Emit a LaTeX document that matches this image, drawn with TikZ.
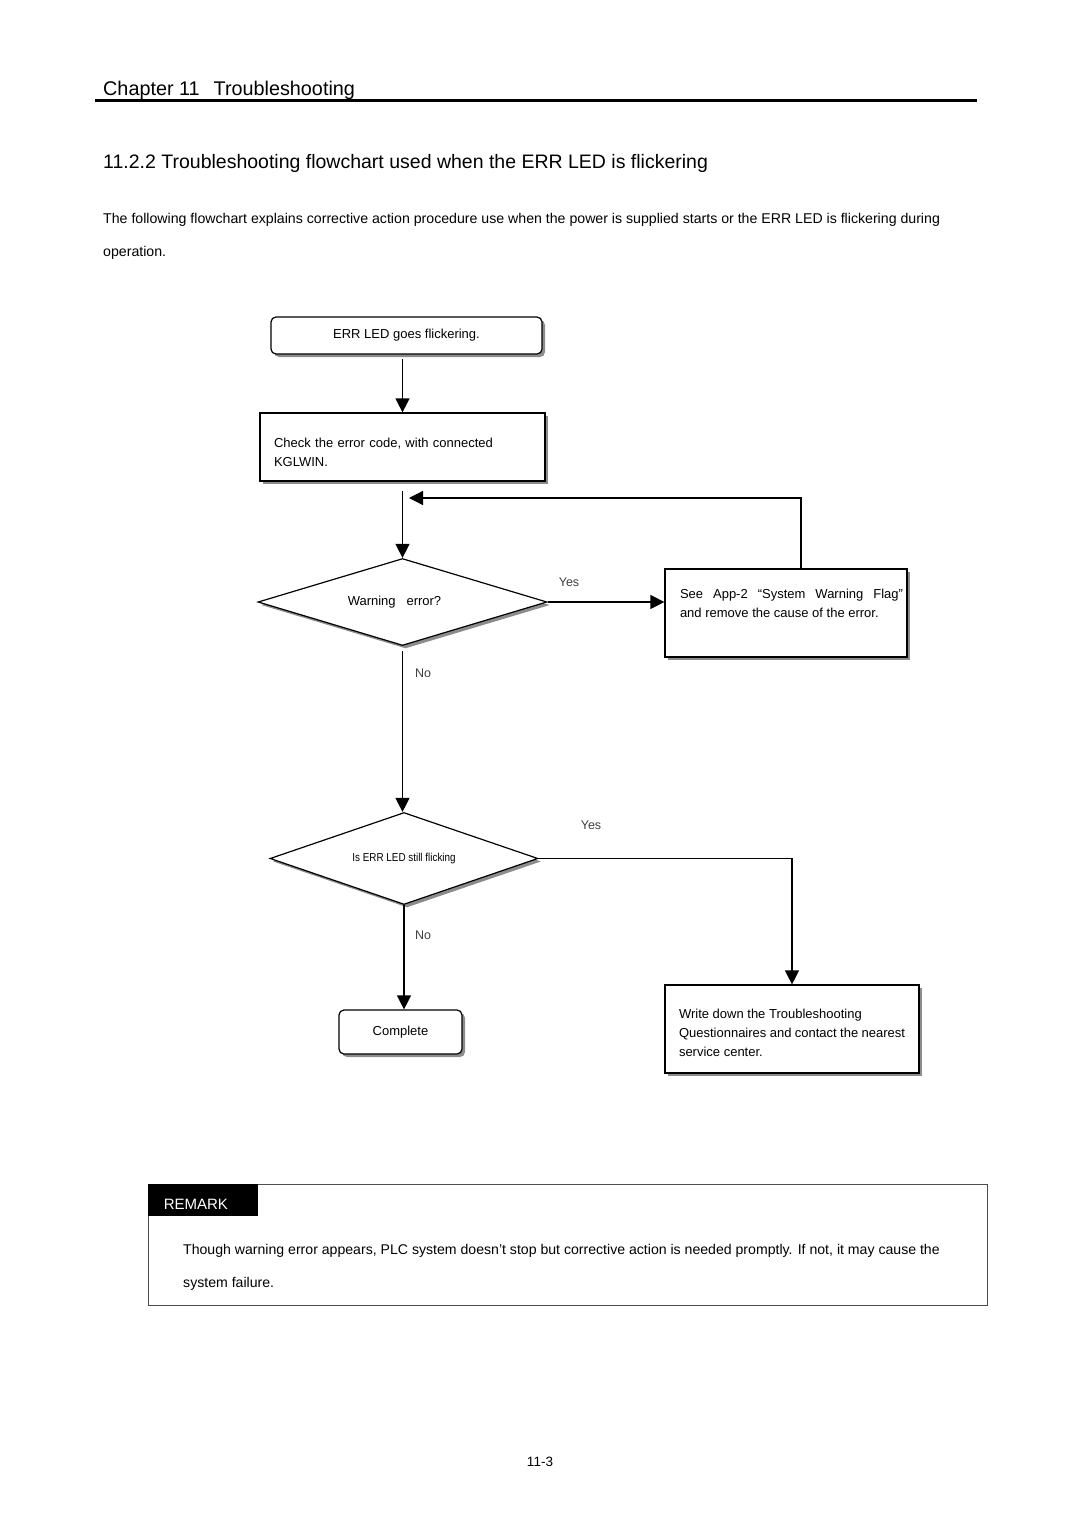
\documentclass[tikz,border=0pt]{standalone}
\usepackage{fontspec}
\setmainfont{Liberation Sans}
\usetikzlibrary{arrows.meta,shapes.geometric,shadows}

\begin{document}
\begin{tikzpicture}[%
      x=1pt, y=-1pt,
      every node/.style={font={\fontsize{13}{19}\selectfont}, inner sep=0pt},
      shadowed/.style={drop shadow={shadow xshift=3pt, shadow yshift=-3pt,
                                    fill=black!45, opacity=1}},
      roundbox/.style={draw, line width=1.2pt, rounded corners=5pt, fill=white, shadowed},
      plainbox/.style={draw, line width=1.2pt, fill=white, shadowed},
      decision/.style={draw, diamond, line width=1.2pt, fill=white, shadowed},
      arr/.style={line width=1.2pt, -{Triangle[width=14pt,length=14pt]}},
      branch/.style={text=black!75, font={\fontsize{12.5}{14}\selectfont}}
    ]
    \useasboundingbox (0,0) rectangle (1080,1528);
    \fill[white] (0,0) rectangle (1080,1528);

    % page head
    \node[anchor=base west, font={\fontsize{19.8}{22}\selectfont}] (chap) at (103,95)
     {Chapter 11\hspace{14pt}Troubleshooting};
    \draw[line width=3pt] (95,100) -- (977,100);
    \node[anchor=base west, font={\fontsize{19.5}{22}\selectfont}] (sect) at (103,168)
     {11.2.2 Troubleshooting flowchart used when the ERR LED is flickering};
    \node[anchor=base west, align=left, font={\fontsize{14.15}{33}\selectfont}] (intro) at (103,256)
     {The following flowchart explains corrective action procedure use when the power is supplied starts or the ERR LED is flickering during\\
      operation.};

    % flowchart
    \node[roundbox, minimum width=271pt, minimum height=37pt] (start) at (406.5,335.5)
     {ERR LED goes flickering.};
    \node[plainbox, minimum width=285pt, minimum height=68pt, text width=257pt,
          align=left] (check) at (402.5,447)
     {\rule{0pt}{21pt}Check the error code, with connected\\KGLWIN.};
    \node[decision, aspect=3.3, minimum width=289pt, minimum height=87pt] (warn) at (402.5,602)
     {Warning\ \ \ error?\hspace*{16pt}};
    \node[plainbox, minimum width=242pt, minimum height=88pt, text width=242pt,
          align=justify] (see) at (786,613)
     {\leftskip=15pt\rightskip=4pt See App-2 “System Warning Flag”\linebreak
      and remove the cause of the error.\par\rule{0pt}{13pt}};
    \node[decision, aspect=2.9, minimum width=268pt, minimum height=92pt] (still) at (404,858.5)
     {\scalebox{0.86}[1]{\fontsize{11.5}{13}\selectfont Is ERR LED still flicking}};
    \node[roundbox, minimum width=123pt, minimum height=44pt] (done) at (400.5,1032)
     {Complete};
    \node[plainbox, minimum width=254pt, minimum height=88pt, text width=226pt,
          align=justify] (write) at (792,1029)
     {\rule{0pt}{17pt}Write down the Troubleshooting\\Questionnaires and contact the nearest\linebreak service center.};

    \coordinate (back) at (409,498);

    \draw[arr, shorten <=4pt] (start.south -| check.north) -- (check.north);
    \draw[arr] ([yshift=-9pt]check.south) -- (warn.north);
    \draw[arr] (warn.east) -- (warn.east -| see.west);
    \draw[arr] ([xshift=15pt]see.north) |- (back);
    \draw[arr, shorten <=5pt] (warn.south) -- (warn.south |- still.north);
    \draw[arr] (still.east) -| (write.north);
    \draw[arr] (still.south) -- (still.south |- done.north);

    \node[branch] (yes1) at (569,582) {Yes};
    \node[branch] (no1) at (423,673) {No};
    \node[branch] (yes2) at (591,825) {Yes};
    \node[branch] (no2) at (423,935) {No};

    % remark
    \node[draw=black!70, line width=0.8pt, minimum width=839pt, minimum height=121pt]
     (remark) at (567.5,1244.5) {};
    \node[fill=black, text=white, anchor=north west, minimum height=32pt,
          text width=78pt, inner xsep=16pt, font={\fontsize{15}{16}\selectfont}]
     (tab) at (remark.north west) {\rule{0pt}{20pt}REMARK};
    \node[anchor=base west, align=left, font={\fontsize{14.1}{33}\selectfont}] (note) at (183,1287)
     {Though warning error appears, PLC system doesn’t stop but corrective action is needed promptly. If not, it may cause the\\
      system failure.};

    \node[font={\fontsize{13.5}{15}\selectfont}] (page) at (540,1462) {11-3};
  \end{tikzpicture}
\end{document}
